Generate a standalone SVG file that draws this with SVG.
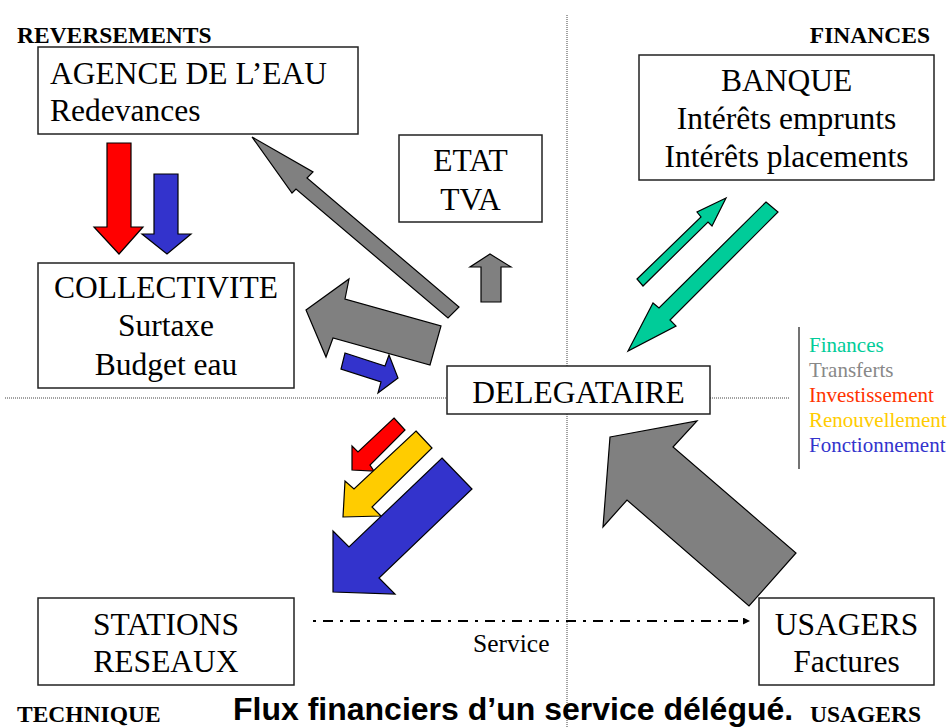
<svg xmlns="http://www.w3.org/2000/svg" width="951" height="727" viewBox="0 0 951 727">
<defs>
<style>
.box{fill:#fff;stroke:#222;stroke-width:1.5}
.t{font-family:"Liberation Serif","Times New Roman",serif;font-size:31.5px;fill:#000}
.c{text-anchor:middle}
.corner{font-family:"Liberation Serif","Times New Roman",serif;font-size:23.5px;font-weight:bold;fill:#000}
.leg{font-family:"Liberation Serif","Times New Roman",serif;font-size:21px}
.arr{stroke:#000;stroke-width:1.2;stroke-linejoin:miter}
.red{fill:#FF0000}.blue{fill:#3333CC}.gray{fill:#808080}.yel{fill:#FFCC00}.teal{fill:#00CC99}
.dot{fill:none;stroke:#444;stroke-width:1;stroke-dasharray:1,1}
</style>
<marker id="ah" viewBox="0 0 10 10" refX="10" refY="5" markerWidth="7" markerHeight="7" markerUnits="userSpaceOnUse" orient="auto">
<path d="M0,0 L10,5 L0,10 z" fill="#000"/>
</marker>
</defs>
<rect width="951" height="727" fill="#fff"/>

<g id="grid">
<line class="dot" x1="5" y1="398" x2="447" y2="398"/>
<line class="dot" x1="710" y1="398" x2="790" y2="398"/>
<line class="dot" x1="567" y1="15" x2="567" y2="366"/>
<line class="dot" x1="567" y1="414" x2="567" y2="727"/>
</g>

<g id="corner-labels">
<text class="corner" x="17" y="43">REVERSEMENTS</text>
<text class="corner" x="930" y="43" text-anchor="end">FINANCES</text>
<text class="corner" x="17" y="722">TECHNIQUE</text>
<text class="corner" x="810" y="722">USAGERS</text>
</g>

<g id="connectors">
<polygon class="arr red" points="107,143 131,143 131,227 143,227 119,254 94,227 107,227"/>
<polygon class="arr blue" points="154,174 178,174 178,234 191,234 167,254 142,234 154,234"/>
<polygon class="arr gray" points="252,137 313,172 307,178 459,307 448,318 296,189 292,193"/>
<polygon class="arr gray" points="306,310 349,279 345,299 441,326 430,365 333,338 326,357"/>
<polygon class="arr blue" points="345,353 385,366 389,355 398,378 378,393 381,382 341,369"/>
<polygon class="arr gray" points="481,302 481,267 470,267 490,254 511,267 501,267 501,302"/>
<polygon class="arr teal" points="637,279 701,217 697,212 726,198 712,226 708,222 643,286"/>
<polygon class="arr teal" points="766,202 778,212 670,320 676,326 628,351 653,303 659,308"/>
<polygon class="arr gray" points="610,437 697,421 673,447 796,553 749,606 627,500 603,527"/>
<polygon class="arr red" points="394,418 405,430 370,465 374,471 352,470 352,446 358,452"/>
<polygon class="arr yel" points="416,431 432,448 372,507 381,516 343,517 345,481 354,489"/>
<polygon class="arr blue" points="442,458 472,489 379,578 395,594 333,592 333,531 349,547"/>
<line x1="313" y1="621" x2="750" y2="621" stroke="#000" stroke-width="2" stroke-dasharray="3,7,10,7" marker-end="url(#ah)"/>
<text x="473" y="652" font-family="'Liberation Serif','Times New Roman',serif" font-size="25.5" fill="#000">Service</text>
</g>

<g id="agence">
<rect class="box" x="38" y="47" width="320" height="87"/>
<text class="t" x="50" y="84">AGENCE DE L’EAU</text>
<text class="t" x="50" y="121">Redevances</text>
</g>

<g id="etat">
<rect class="box" x="399" y="135" width="143" height="87"/>
<text class="t c" x="470.5" y="171">ETAT</text>
<text class="t c" x="470.5" y="210">TVA</text>
</g>

<g id="banque">
<rect class="box" x="639" y="55" width="295" height="125"/>
<text class="t c" x="786.5" y="91">BANQUE</text>
<text class="t c" x="786.5" y="129">Intérêts emprunts</text>
<text class="t c" x="786.5" y="167">Intérêts placements</text>
</g>

<g id="collectivite">
<rect class="box" x="38" y="263" width="256" height="125"/>
<text class="t c" x="166" y="298">COLLECTIVITE</text>
<text class="t c" x="166" y="336">Surtaxe</text>
<text class="t c" x="166" y="375">Budget eau</text>
</g>

<g id="delegataire">
<rect class="box" x="447" y="366" width="263" height="48"/>
<text class="t c" x="578.5" y="403">DELEGATAIRE</text>
</g>

<g id="stations">
<rect class="box" x="38" y="598" width="256" height="87"/>
<text class="t c" x="166" y="635">STATIONS</text>
<text class="t c" x="166" y="672">RESEAUX</text>
</g>

<g id="usagers">
<rect class="box" x="759" y="598" width="175" height="87"/>
<text class="t c" x="846.5" y="635">USAGERS</text>
<text class="t c" x="846.5" y="672">Factures</text>
</g>

<g id="legend">
<line x1="799" y1="327" x2="799" y2="469" stroke="#444" stroke-width="1.5"/>
<text class="leg" x="809" y="352" fill="#00CC99">Finances</text>
<text class="leg" x="809" y="377" fill="#888888">Transferts</text>
<text class="leg" x="809" y="402" fill="#FF3300">Investissement</text>
<text class="leg" x="809" y="427" fill="#FFCC00">Renouvellement</text>
<text class="leg" x="809" y="452" fill="#3333CC">Fonctionnement</text>
</g>

<g id="title">
<text x="233" y="720" font-family="'Liberation Sans', Arial, sans-serif" font-size="32" font-weight="bold" fill="#000">Flux financiers d’un service délégué.</text>
</g>
</svg>
